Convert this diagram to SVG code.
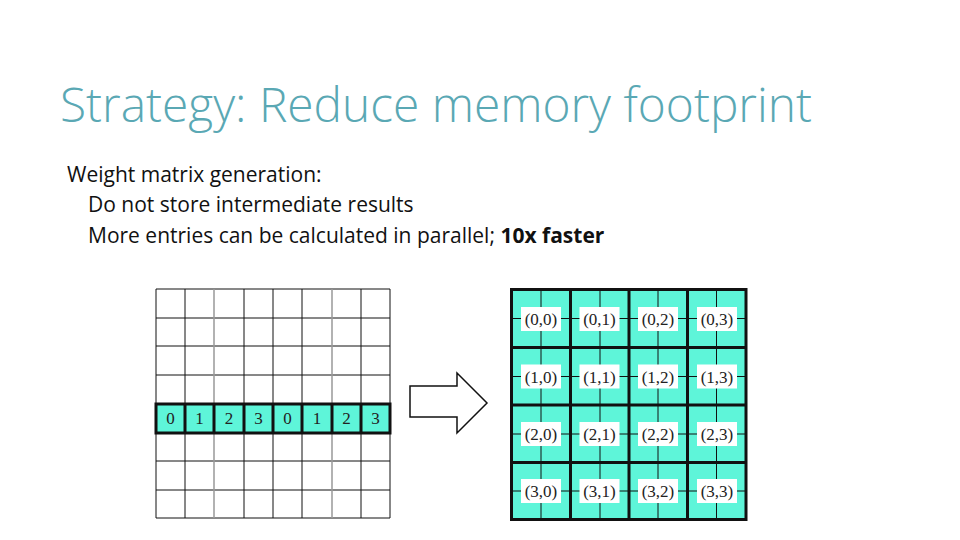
<svg xmlns="http://www.w3.org/2000/svg" width="960" height="540" viewBox="0 0 960 540">
<style>
.t{font-family:"Open Sans","Noto Sans",sans-serif;font-weight:300;font-size:48px;fill:#5aa8b4}
.b{font-family:"Open Sans","Noto Sans",sans-serif;font-size:21px;fill:#111}
.m{font-family:"Liberation Serif",serif;font-size:17px;fill:#222;text-anchor:middle}
.thin{stroke:#111;stroke-width:1;fill:none}
.gray{stroke:#999;stroke-width:1.5}
</style>
<rect width="960" height="540" fill="#fff"/>
<text class="t" x="60" y="122" textLength="752" lengthAdjust="spacingAndGlyphs">Strategy: Reduce memory footprint</text>
<text class="b" x="67" y="182">Weight matrix generation:</text>
<text class="b" x="88" y="212">Do not store intermediate results</text>
<text class="b" x="88" y="243">More entries can be calculated in parallel; <tspan font-weight="700">10x faster</tspan></text>

<g id="left-grid">
<rect x="156" y="404" width="234" height="29" fill="#5ef5d9"/>
<g class="thin">
<path d="M156 289V518M185 289V518M244 289V518M273 289V518M302 289V518M361 289V518M390 289V518"/>
<path d="M156 289H390M156 318H390M156 346H390M156 375H390M156 461H390M156 490H390M156 518H390"/>
</g>
<path class="gray" d="M214 289V404M214 433V518M332 289V404M332 433V518"/>
<g stroke="#111" stroke-width="3" fill="none">
<rect x="156" y="404" width="234" height="29"/>
<path d="M185 404V433M214 404V433M244 404V433M273 404V433M302 404V433M332 404V433M361 404V433"/>
</g>
<g class="m">
<text x="170.5" y="424">0</text><text x="199.5" y="424">1</text><text x="229" y="424">2</text><text x="258.5" y="424">3</text>
<text x="287.5" y="424">0</text><text x="317" y="424">1</text><text x="346.5" y="424">2</text><text x="375.5" y="424">3</text>
</g>
</g>

<g id="arrow">
<path d="M410 386H457V373L487 403L457 433V417H410Z" fill="#fff" stroke="#111" stroke-width="1.5"/>
</g>

<g id="right-grid">
<rect x="511.5" y="289.5" width="234.5" height="230" fill="#5ef5d9"/>
<g class="thin">
<path d="M541 290V519M600 290V519M658 290V519M716.5 290V519"/>
<path d="M512 318.5H746M512 376.5H746M512 434H746M512 491H746"/>
</g>
<g stroke="#111" stroke-width="3" fill="none">
<rect x="511.5" y="289.5" width="234.5" height="230"/>
<path d="M570.5 290V519M629 290V519M687.5 290V519M512 347.5H746M512 405H746M512 462.5H746"/>
</g>
<g fill="#fff">
<rect x="521" y="307" width="40" height="24"/><rect x="579.5" y="307" width="40" height="24"/><rect x="638" y="307" width="40" height="24"/><rect x="697" y="307" width="40" height="24"/>
<rect x="521" y="364.5" width="40" height="24"/><rect x="579.5" y="364.5" width="40" height="24"/><rect x="638" y="364.5" width="40" height="24"/><rect x="697" y="364.5" width="40" height="24"/>
<rect x="521" y="422" width="40" height="24"/><rect x="579.5" y="422" width="40" height="24"/><rect x="638" y="422" width="40" height="24"/><rect x="697" y="422" width="40" height="24"/>
<rect x="521" y="479" width="40" height="24"/><rect x="579.5" y="479" width="40" height="24"/><rect x="638" y="479" width="40" height="24"/><rect x="697" y="479" width="40" height="24"/>
</g>
<g class="m">
<text x="541" y="325">(0,0)</text><text x="599.5" y="325">(0,1)</text><text x="658" y="325">(0,2)</text><text x="717" y="325">(0,3)</text>
<text x="541" y="382.5">(1,0)</text><text x="599.5" y="382.5">(1,1)</text><text x="658" y="382.5">(1,2)</text><text x="717" y="382.5">(1,3)</text>
<text x="541" y="440">(2,0)</text><text x="599.5" y="440">(2,1)</text><text x="658" y="440">(2,2)</text><text x="717" y="440">(2,3)</text>
<text x="541" y="497">(3,0)</text><text x="599.5" y="497">(3,1)</text><text x="658" y="497">(3,2)</text><text x="717" y="497">(3,3)</text>
</g>
</g>
</svg>
